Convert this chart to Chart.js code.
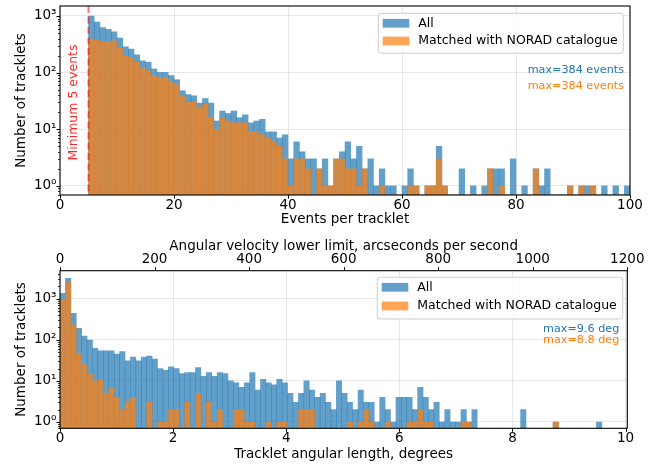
<!DOCTYPE html>
<html>
<head>
<meta charset="utf-8">
<style>
  html, body { margin: 0; padding: 0; background: #fff; }
  #wrap { position: relative; width: 660px; height: 466px; }
  #wrap canvas { position: absolute; left: 0; }
</style>
<script src="https://cdn.jsdelivr.net/npm/chart.js@4/dist/chart.umd.min.js"></script>
</head>
<body>
<div id="wrap">
  <canvas id="eventsChart" width="660" height="232" style="top:0"></canvas>
  <canvas id="lengthChart" width="660" height="234" style="top:232px"></canvas>
</div>
<script>
// ---- Events per tracklet (one bin per integer event count; lower edges) ----
const eventBinStarts = [
   5,  6,  7,  8,  9, 10, 11, 12, 13, 14,
  15, 16, 17, 18, 19, 20, 21, 22, 23, 24,
  25, 26, 27, 28, 29, 30, 31, 32, 33, 34,
  35, 36, 37, 38, 39, 40, 41, 42, 43, 44,
  45, 46, 47, 48, 49, 50, 51, 52, 53, 54,
  55, 56, 57, 58, 59, 60, 61, 62, 63, 64,
  65, 66, 67, 68, 69, 70, 71, 72, 73, 74,
  75, 76, 77, 78, 79, 80, 81, 82, 83, 84,
  85, 86, 87, 88, 89, 90, 91, 92, 93, 94,
  95, 96, 97, 98, 99
];
const eventsAll = [
  1000, 785, 623, 584, 525, 408, 286, 260, 207, 162,
  152, 116, 101, 101, 89, 75, 48, 41, 39, 29,
  35, 29, 14, 21, 19, 21, 16, 18, 13, 14,
  15, 9, 9, 7, 8, 3, 6, 4, 3, 3,
  2, 3, 1, 3, 4, 6, 3, 5, 2, 3,
  1, 2, 1, 1, 0, 1, 2, 1, 0, 1,
  1, 5, 1, 0, 0, 2, 0, 1, 0, 1,
  2, 2, 2, 0, 3, 0, 1, 0, 2, 1,
  2, 0, 0, 0, 1, 0, 1, 1, 1, 0,
  1, 0, 1, 0, 1
];
const eventsMatched = [
  390, 375, 350, 350, 364, 272, 199, 181, 152, 124,
  108, 89, 81, 81, 70, 61, 38, 30, 30, 24,
  28, 16, 10, 16, 14, 13, 13, 13, 9, 9,
  8, 7, 6, 5, 3, 1, 3, 3, 2, 0,
  2, 1, 1, 3, 3, 2, 2, 1, 2, 0,
  0, 1, 0, 0, 0, 0, 1, 1, 0, 1,
  1, 3, 1, 0, 0, 0, 0, 0, 0, 0,
  2, 0, 1, 0, 0, 0, 0, 0, 2, 0,
  0, 0, 0, 0, 1, 0, 1, 0, 1, 0,
  0, 0, 0, 0, 0
];
const eventTicks = [0, 20, 40, 60, 80, 100];
const minEvents = 5;
const maxEvents = [384, 384];

// ---- Tracklet angular length, degrees (100 equal bins) ----
const lengthBinWidth = 0.0958;
const lengthAll = [
  1360, 3150, 443, 191, 124, 99, 62, 54, 54, 54,
  45, 52, 31, 38, 31, 38, 40, 34, 20, 18,
  22, 20, 15, 16, 16, 21, 13, 16, 13, 16,
  15, 10, 9, 7, 9, 16, 6, 11, 9, 8,
  11, 9, 5, 3, 5, 10, 6, 4, 5, 3,
  2, 10, 5, 3, 2, 6, 3, 3, 1, 4,
  2, 1, 4, 4, 4, 2, 7, 4, 2, 3,
  1, 2, 1, 1, 2, 1, 2, 0, 0, 0,
  0, 0, 0, 0, 0, 2, 0, 0, 0, 0,
  0, 1, 0, 0, 0, 0, 0, 0, 0, 1
];
const lengthMatched = [
  935, 2510, 230, 47, 25, 15, 10, 11, 5, 7,
  4, 2, 3, 4, 0, 0, 3, 0, 1, 1,
  2, 2, 0, 3, 0, 5, 0, 3, 1, 2,
  0, 0, 2, 2, 1, 1, 0, 0, 1, 0,
  1, 1, 0, 0, 2, 2, 2, 0, 0, 0,
  0, 0, 0, 1, 0, 1, 2, 1, 0, 0,
  1, 0, 0, 0, 1, 1, 2, 1, 1, 0,
  0, 0, 0, 0, 1, 1, 0, 0, 0, 0,
  0, 0, 0, 0, 0, 0, 0, 0, 0, 0,
  0, 1, 0, 0, 0, 0, 0, 0, 0, 0
];
const lengthTicks = [0, 2, 4, 6, 8, 10];
const velocityTicks = [0, 200, 400, 600, 800, 1000, 1200];
const maxLength = [9.6, 8.8];

const seriesLabels = ['All', 'Matched with NORAD catalogue'];
const decadeTicks = [1, 10, 100, 1000];

// ---- styling ----
const FONT = "'DejaVu Sans', sans-serif";
const BLUE = 'rgba(31,119,180,0.7)';
const ORANGE = 'rgba(255,127,14,0.7)';
const BLUE_TEXT = '#1f77b4';
const ORANGE_TEXT = '#ff7f0e';
const GRID = 'rgba(0,0,0,0.09)';
const SUP = ['\u2070', '\u00b9', '\u00b2', '\u00b3', '\u2074'];

Chart.defaults.font.family = FONT;
Chart.defaults.color = '#000';

const labelFont = { family: FONT, size: 13.5, lineHeight: 1.2 };

function histDatasets(starts, width, all, matched) {
  const pts = arr => arr.map((v, i) => ({ x: starts[i] + width / 2, y: v }));
  const common = { grouped: false, barPercentage: 1, categoryPercentage: 1, borderWidth: 0, inflateAmount: 0.3 };
  return [
    Object.assign({ label: seriesLabels[0], data: pts(all), backgroundColor: BLUE, order: 2 }, common),
    Object.assign({ label: seriesLabels[1], data: pts(matched), backgroundColor: ORANGE, order: 1 }, common)
  ];
}

function logAxis(min, max) {
  return {
    type: 'logarithmic', min: min, max: max,
    afterBuildTicks: s => { s.ticks = decadeTicks.filter(v => v >= min && v <= max).map(v => ({ value: v })); },
    afterFit: s => { s.width = 60; s.paddingTop = 0; s.paddingBottom = 0; },
    ticks: { font: labelFont, color: '#000', padding: 3.5, autoSkip: false,
             callback: v => '10' + SUP[Math.round(Math.log10(v))] },
    grid: { color: GRID, lineWidth: 1, drawTicks: false },
    border: { display: false },
    title: { display: true, text: 'Number of tracklets', font: labelFont, color: '#000', padding: { top: 12.9, bottom: 0 } }
  };
}

function linearAxis(opts) {
  return {
    type: 'linear', position: opts.position || 'bottom', min: opts.min, max: opts.max, offset: false,
    afterBuildTicks: s => { s.ticks = opts.ticks.map(v => ({ value: v })); },
    afterFit: s => { s.height = opts.height; s.paddingLeft = 0; s.paddingRight = 0; },
    ticks: { font: labelFont, color: '#000', padding: opts.pad, autoSkip: false, maxRotation: 0,
             callback: v => String(v) },
    grid: { display: opts.grid !== false, color: GRID, lineWidth: 1, drawTicks: false, offset: false },
    border: { display: false },
    title: { display: true, text: opts.title, font: labelFont, color: '#000', padding: opts.titlePad }
  };
}

function roundRect(ctx, x, y, w, h, r) {
  ctx.beginPath();
  ctx.moveTo(x + r, y);
  ctx.lineTo(x + w - r, y);
  ctx.arcTo(x + w, y, x + w, y + r, r);
  ctx.lineTo(x + w, y + h - r);
  ctx.arcTo(x + w, y + h, x + w - r, y + h, r);
  ctx.lineTo(x + r, y + h);
  ctx.arcTo(x, y + h, x, y + h - r, r);
  ctx.lineTo(x, y + r);
  ctx.arcTo(x, y, x + r, y, r);
  ctx.closePath();
}

// Frame, tick marks, threshold marker, legend box and max notes.
const decorations = {
  id: 'decorations',
  afterDatasetsDraw(chart, args, o) {
    const { ctx, chartArea: a, scales } = chart;
    const xs = scales.x, ys = scales.y;
    ctx.save();

    if (o.threshold !== undefined) {
      const px = xs.getPixelForValue(o.threshold);
      ctx.strokeStyle = 'rgba(255,0,0,0.55)';
      ctx.lineWidth = 2;
      ctx.setLineDash([7, 3.5]);
      ctx.beginPath(); ctx.moveTo(px, a.top); ctx.lineTo(px, a.bottom); ctx.stroke();
      ctx.setLineDash([]);
      ctx.save();
      ctx.translate(px - 14.5, (a.top + a.bottom) / 2 + 2);
      ctx.rotate(-Math.PI / 2);
      ctx.fillStyle = 'rgba(255,0,0,0.85)';
      ctx.font = '12.5px ' + FONT;
      ctx.textAlign = 'center'; ctx.textBaseline = 'middle';
      ctx.fillText(o.thresholdLabel, 0, 0);
      ctx.restore();
    }

    // tick marks
    ctx.strokeStyle = '#000';
    const seg = (x1, y1, x2, y2, w) => { ctx.lineWidth = w; ctx.beginPath(); ctx.moveTo(x1, y1); ctx.lineTo(x2, y2); ctx.stroke(); };
    xs.ticks.forEach(t => { const p = Math.round(xs.getPixelForValue(t.value)) + 0.5; seg(p, a.bottom, p, a.bottom + 3.5, 1); });
    if (scales.x2) {
      const x2 = scales.x2;
      x2.ticks.forEach(t => { const p = Math.round(x2.getPixelForValue(t.value)) + 0.5; seg(p, a.top, p, a.top - 3.5, 1); });
    }
    const lo = Math.floor(Math.log10(ys.min)), hi = Math.ceil(Math.log10(ys.max));
    for (let d = lo; d <= hi; d++) {
      for (let m = 1; m <= 9; m++) {
        const v = m * Math.pow(10, d);
        if (v < ys.min || v > ys.max) continue;
        const p = Math.round(ys.getPixelForValue(v)) + 0.5;
        if (m === 1) seg(a.left - 3.5, p, a.left, p, 1);
        else seg(a.left - 2, p, a.left, p, 0.8);
      }
    }

    // frame
    ctx.lineWidth = 1.1;
    ctx.strokeRect(a.left, a.top, a.right - a.left, a.bottom - a.top);

    // legend
    const L = o.legend;
    const bx = a.right - L.right - L.w, by = a.top + L.top;
    roundRect(ctx, bx, by, L.w, L.h, 3);
    ctx.fillStyle = 'rgba(255,255,255,0.8)'; ctx.fill();
    ctx.strokeStyle = '#cccccc'; ctx.lineWidth = 1; ctx.stroke();
    ctx.font = '12.5px ' + FONT;
    ctx.textAlign = 'left'; ctx.textBaseline = 'middle';
    chart.data.datasets.forEach((ds, i) => {
      const cy = by + L.rows[i];
      ctx.fillStyle = ds.backgroundColor;
      ctx.fillRect(bx + 4.4, cy - 4.4, 26.6, 8.8);
      ctx.fillStyle = '#000';
      ctx.fillText(ds.label, bx + 40, cy);
    });

    // max notes
    ctx.font = '11.2px ' + FONT;
    ctx.textAlign = 'right';
    o.notes.forEach(n => {
      ctx.fillStyle = n.color;
      ctx.fillText(n.text, a.right - o.noteRight, a.top + n.dy);
    });
    ctx.restore();
  }
};

// ---- top: events per tracklet ----
new Chart(document.getElementById('eventsChart'), {
  type: 'bar',
  data: { datasets: histDatasets(eventBinStarts, 1, eventsAll, eventsMatched) },
  options: {
    responsive: false, animation: false, devicePixelRatio: 1, events: [],
    layout: { padding: { left: 0, right: 30, top: 6, bottom: 0 } },
    scales: {
      x: linearAxis({ min: 0, max: 100, ticks: eventTicks, height: 37, pad: 1.9,
                      title: 'Events per tracklet', titlePad: { top: 0, bottom: 4.4 } }),
      y: logAxis(0.69, 1500)
    },
    plugins: {
      legend: { display: false }, tooltip: { enabled: false },
      decorations: {
        threshold: minEvents, thresholdLabel: 'Minimum ' + minEvents + ' events',
        legend: { right: 6.7, top: 7.3, w: 245, h: 40, rows: [10, 27.7] },
        noteRight: 6,
        notes: [
          { text: 'max=' + maxEvents[0] + ' events', color: BLUE_TEXT, dy: 64 },
          { text: 'max=' + maxEvents[1] + ' events', color: ORANGE_TEXT, dy: 80 }
        ]
      }
    }
  },
  plugins: [decorations]
});

// ---- bottom: tracklet angular length ----
const lengthBinStarts = lengthAll.map((_, i) => i * lengthBinWidth);
new Chart(document.getElementById('lengthChart'), {
  type: 'bar',
  data: { datasets: histDatasets(lengthBinStarts, lengthBinWidth, lengthAll, lengthMatched) },
  options: {
    responsive: false, animation: false, devicePixelRatio: 1, events: [],
    layout: { padding: { left: 0, right: 32.7, top: 0, bottom: 0 } },
    scales: {
      x: linearAxis({ min: 0, max: 10.03, ticks: lengthTicks, height: 37.7, pad: 1.6,
                      title: 'Tracklet angular length, degrees', titlePad: { top: 0, bottom: 3.9 } }),
      x2: linearAxis({ position: 'top', min: 0, max: 1200, ticks: velocityTicks, height: 38.7, pad: 3.3, grid: false,
                       title: 'Angular velocity lower limit, arcseconds per second', titlePad: { top: 6.4, bottom: 0 } }),
      y: logAxis(0.70, 4830)
    },
    plugins: {
      legend: { display: false }, tooltip: { enabled: false },
      decorations: {
        legend: { right: 4.6, top: 6.6, w: 245.4, h: 41.7, rows: [10, 28.7] },
        noteRight: 8,
        notes: [
          { text: 'max=' + maxLength[0] + ' deg', color: BLUE_TEXT, dy: 58.3 },
          { text: 'max=' + maxLength[1] + ' deg', color: ORANGE_TEXT, dy: 69.6 }
        ]
      }
    }
  },
  plugins: [decorations]
});
</script>
</body>
</html>
